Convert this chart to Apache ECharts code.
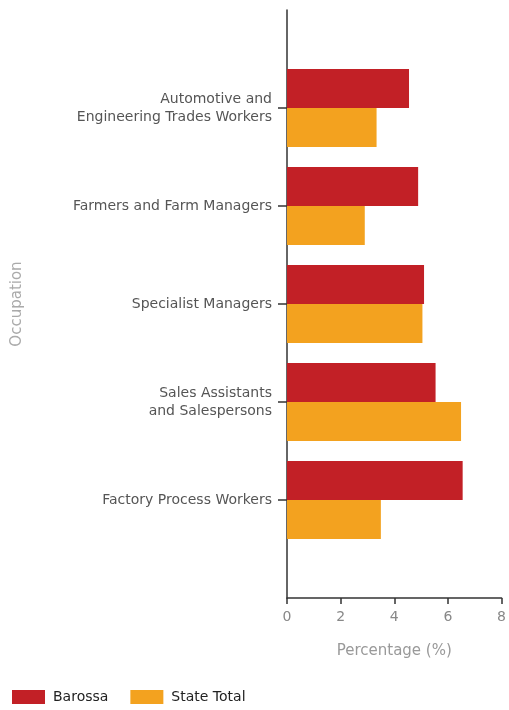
<!DOCTYPE html>
<html>
<head>
<meta charset="utf-8">
<script src="https://cdn.jsdelivr.net/npm/echarts@6/dist/echarts.min.js"></script>
<style>
  html, body { margin: 0; padding: 0; background: #fff; }
  #chart { width: 509px; height: 710px; }
</style>
</head>
<body>
<div id="chart"></div>
<script>
// Occupations, top to bottom
const occupations = [
  'Automotive and\nEngineering Trades Workers',
  'Farmers and Farm Managers',
  'Specialist Managers',
  'Sales Assistants\nand Salespersons',
  'Factory Process Workers'
];
// Share of employed persons (%)
const barossa = [4.55, 4.89, 5.11, 5.54, 6.55];
const stateTotal = [3.34, 2.90, 5.05, 6.49, 3.50];
const xTicks = [0, 2, 4, 6, 8];

// Blank slots at both ends give the axis its extra headroom above and below
const cats = [''].concat(occupations, ['']);
const pad = arr => [null].concat(arr, [null]);

const chart = echarts.init(document.getElementById('chart'));
const font = 'DejaVu Sans, Verdana, sans-serif';

chart.setOption({
  animation: false,
  grid: { left: 287, right: 5, top: 10, bottom: 112, containLabel: false },
  legend: {
    left: 12, top: 690, padding: 0, itemWidth: 33, itemHeight: 14, itemGap: 22,
    icon: 'rect',
    textStyle: { fontFamily: font, fontSize: 14, color: '#222', padding: [0, 0, 0, 3] },
    data: ['Barossa', 'State Total']
  },
  xAxis: {
    type: 'value', min: xTicks[0], max: xTicks[xTicks.length - 1], interval: 2,
    name: 'Percentage (%)', nameLocation: 'middle', nameGap: 46,
    nameTextStyle: { fontFamily: font, fontSize: 15, color: '#999' },
    axisLine: { show: true, lineStyle: { color: '#333', width: 1.5 } },
    axisTick: { show: true, length: 6, lineStyle: { color: '#333', width: 1.5 } },
    axisLabel: { fontFamily: font, fontSize: 14, color: '#888', margin: 12 },
    splitLine: { show: false }
  },
  yAxis: {
    type: 'category', data: cats, inverse: true, boundaryGap: false,
    name: 'Occupation', nameLocation: 'middle', nameGap: 262, nameRotate: 90,
    nameTextStyle: { fontFamily: font, fontSize: 15, color: '#aaa' },
    axisLine: { show: true, lineStyle: { color: '#333', width: 1.5 } },
    axisTick: {
      show: true, length: 9, lineStyle: { color: '#333', width: 1.5 },
      interval: (i, v) => v !== ''
    },
    axisLabel: {
      fontFamily: font, fontSize: 14, color: '#555', margin: 15,
      align: 'right', lineHeight: 18, interval: 0
    }
  },
  series: [
    {
      name: 'Barossa', type: 'bar', data: pad(barossa),
      barWidth: 39, barGap: '0%', itemStyle: { color: '#c22026' }
    },
    {
      name: 'State Total', type: 'bar', data: pad(stateTotal),
      barWidth: 39, barGap: '0%', itemStyle: { color: '#f3a21f' }
    }
  ]
});
</script>
</body>
</html>
